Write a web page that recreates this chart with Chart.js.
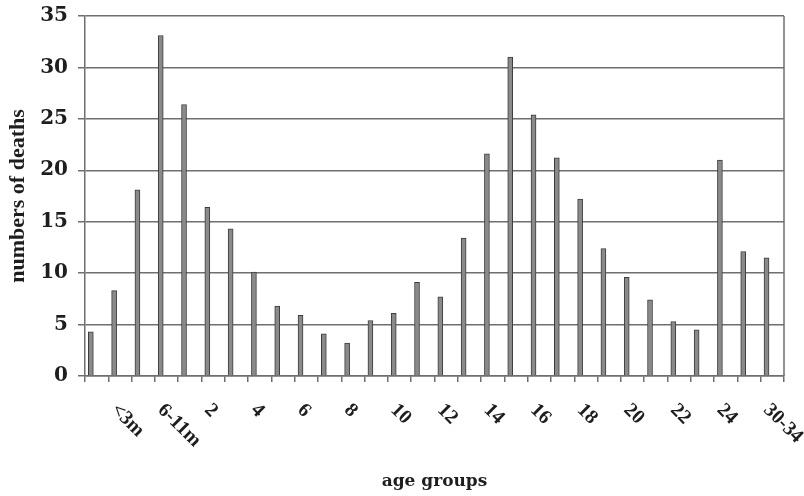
<!DOCTYPE html>
<html>
<head>
<meta charset="utf-8">
<script src="https://cdn.jsdelivr.net/npm/chart.js@4/dist/chart.umd.min.js"></script>
<style>
  html, body { margin: 0; padding: 0; background: #ffffff; }
  #wrap { width: 804px; height: 496px; }
</style>
</head>
<body>
<div id="wrap"><canvas id="chart" width="804" height="496"></canvas></div>
<script>
// Age groups (one bar each); every second one carries a printed label
const ageGroups = ['<1m', '<3m', '3-5m', '6-11m',
  '1', '2', '3', '4', '5', '6', '7', '8', '9', '10', '11', '12',
  '13', '14', '15', '16', '17', '18', '19', '20', '21', '22', '23', '24',
  '25-29', '30-34'];

// Number of deaths per age group
const deaths = [4.3, 8.3, 18.1, 33.1, 26.4, 16.4, 14.3, 10.1, 6.8, 5.9,
  4.1, 3.2, 5.4, 6.1, 9.1, 7.7, 13.4, 21.6, 31.0, 25.4,
  21.2, 17.2, 12.4, 9.6, 7.4, 5.3, 4.5, 21.0, 12.1, 11.5];

// Value axis ticks
const yTickValues = [0, 5, 10, 15, 20, 25, 30, 35];

const AXIS_COLOR = '#6f6f6f';
const TEXT_COLOR = '#1e1e1e';

// Slanted category labels, reading downwards to the right
const slantedLabels = {
  id: 'slantedLabels',
  afterDraw(chart) {
    const { ctx } = chart;
    const xs = chart.scales.x;
    ctx.save();
    ctx.font = 'bold 20px "Liberation Serif"';
    ctx.fillStyle = TEXT_COLOR;
    ctx.textAlign = 'left';
    ctx.textBaseline = 'middle';
    ageGroups.forEach((label, i) => {
      if (i % 2 !== 1) return;
      const px = xs.getPixelForValue(i + 0.25);
      ctx.save();
      ctx.translate(px, xs.top + 31);
      ctx.rotate(Math.PI / 4);
      ctx.fillText(label, 0, 0);
      ctx.restore();
    });
    ctx.restore();
  }
};

// Right-hand edge of the plot frame
const plotFrame = {
  id: 'plotFrame',
  beforeDatasetsDraw(chart) {
    const { ctx, chartArea: a } = chart;
    ctx.save();
    ctx.strokeStyle = AXIS_COLOR;
    ctx.lineWidth = 1.5;
    ctx.beginPath();
    ctx.moveTo(a.right, a.top);
    ctx.lineTo(a.right, a.bottom);
    ctx.stroke();
    ctx.restore();
  }
};

new Chart(document.getElementById('chart'), {
  type: 'bar',
  data: {
    datasets: [{
      // each bar sits in the left half of its age-group slot
      data: deaths.map((v, i) => ({ x: i + 0.25, y: v })),
      backgroundColor: '#8a8a8a',
      borderColor: '#3c3c3c',
      borderWidth: 1,
      barThickness: 5
    }]
  },
  options: {
    responsive: false,
    animation: false,
    layout: { padding: { top: 16, right: 20, bottom: 4, left: 0 } },
    plugins: {
      legend: { display: false },
      tooltip: { enabled: false }
    },
    scales: {
      x: {
        type: 'linear',
        min: 0,
        max: ageGroups.length,
        offset: false,
        afterBuildTicks: s => {
          s.ticks = ageGroups.map((_, i) => ({ value: i })).concat([{ value: ageGroups.length }]);
        },
        ticks: { display: false },
        grid: { offset: false, drawOnChartArea: false, drawTicks: true, tickLength: 6, color: AXIS_COLOR, lineWidth: 1.5 },
        border: { color: AXIS_COLOR, width: 1.5 },
        title: {
          display: true,
          text: 'age groups',
          color: TEXT_COLOR,
          font: { family: 'DejaVu Serif', weight: 'bold', size: 17 },
          padding: { top: 0, bottom: 0 }
        },
        afterFit: s => { s.height = 116; s.paddingLeft = 0; s.paddingRight = 0; }
      },
      y: {
        min: 0,
        max: 35,
        afterBuildTicks: s => { s.ticks = yTickValues.map(v => ({ value: v })); },
        ticks: {
          color: TEXT_COLOR,
          font: { family: 'DejaVu Serif', weight: 'bold', size: 20 },
          padding: 10
        },
        grid: { color: AXIS_COLOR, lineWidth: 1.5, tickLength: 7 },
        border: { color: AXIS_COLOR, width: 1.5 },
        title: {
          display: true,
          text: 'numbers of deaths',
          color: TEXT_COLOR,
          font: { family: 'Liberation Serif', weight: 'bold', size: 22 },
          padding: { top: 5, bottom: 0 }
        },
        afterFit: s => { s.width = 85; s.paddingTop = 0; s.paddingBottom = 0; }
      }
    }
  },
  plugins: [slantedLabels, plotFrame]
});
</script>
</body>
</html>
